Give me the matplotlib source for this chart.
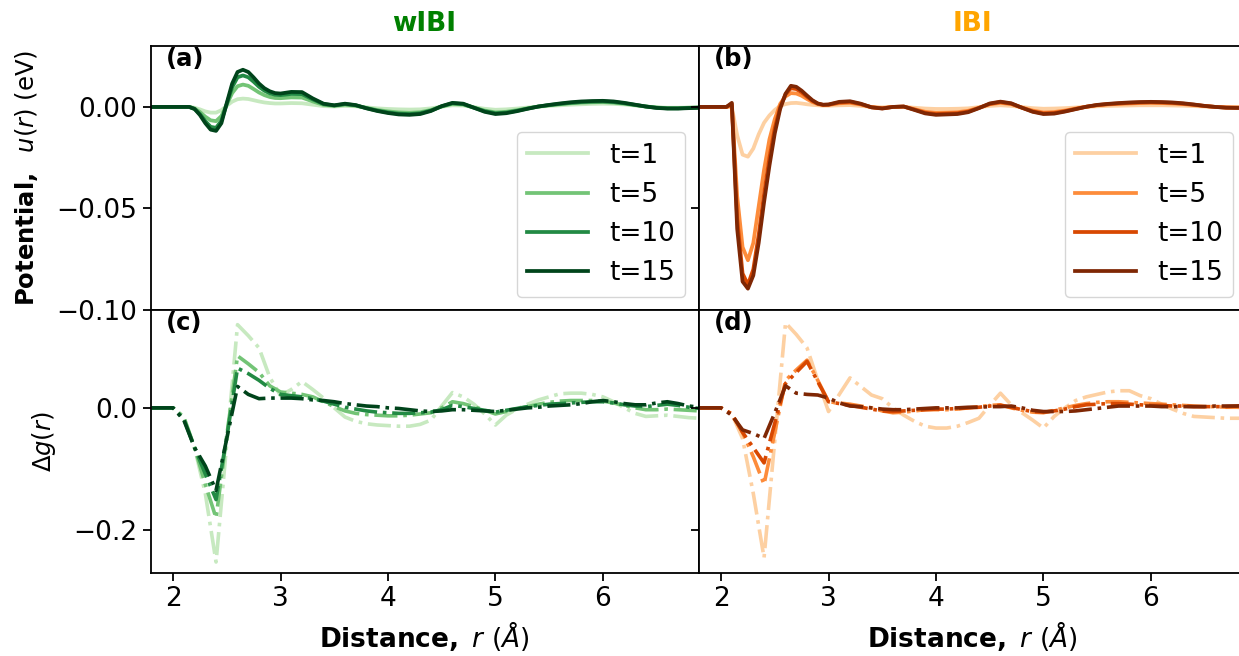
import numpy as np
import matplotlib
matplotlib.use("Agg")
import matplotlib.pyplot as plt

plt.rcParams['font.family'] = ['DejaVu Sans']
plt.rcParams['font.size'] = 19
plt.rcParams['axes.linewidth'] = 1.3

# iteration steps shown
steps = [1, 5, 10, 15]
labels = ["t={}".format(t) for t in steps]

# radial grid for the potentials (finer near the first shell)
r_pot = np.round(np.concatenate([[1.8, 1.9],
                                 np.arange(2.0, 3.001, 0.05),
                                 np.arange(3.1, 6.901, 0.1)]), 2)

# wIBI potentials u(r) in eV
u_wibi_1 = [0, 0, 0, 0, 0,
            0.0, -0.0004, -0.0012, -0.0022, -0.0028, -0.0028, -0.0016, 0.0006, 0.0026, 0.0038,
            0.0041, 0.0039, 0.0033, 0.0027, 0.0022, 0.0019, 0.0017, 0.0017,
            0.0019, 0.0018, 0.0011, 0.0004, 0.0002, 0.0005, 0.0003, -0.0002, -0.0007,
            -0.001, -0.0012, -0.0013, -0.0012, -0.0007, 0.0001, 0.0008, 0.0007, -0.0001, -0.0009,
            -0.0014, -0.0012, -0.0008, -0.0003, 0.0001, 0.0005, 0.0008, 0.0011, 0.0013, 0.0015,
            0.0016, 0.0015, 0.0012, 0.0007, 0.0002, -0.0002, -0.0004, -0.0004, -0.0003, -0.0002]
u_wibi_5 = [0, 0, 0, 0, 0,
            0.0, -0.0008, -0.0025, -0.0048, -0.0066, -0.007, -0.0045, 0.0012, 0.0068, 0.0102,
            0.011, 0.0104, 0.0088, 0.0071, 0.0058, 0.0049, 0.0044, 0.0043,
            0.0047, 0.0046, 0.0027, 0.001, 0.0005, 0.0011, 0.0006, -0.0005, -0.0015,
            -0.0022, -0.0027, -0.0029, -0.0026, -0.0015, 0.0002, 0.0015, 0.0012, -0.0003, -0.0018,
            -0.0027, -0.0024, -0.0016, -0.0007, 0.0002, 0.0008, 0.0013, 0.0018, 0.0021, 0.0023,
            0.0024, 0.0021, 0.0016, 0.0009, 0.0002, -0.0003, -0.0006, -0.0006, -0.0004, -0.0003]
u_wibi_10 = [0, 0, 0, 0, 0,
             0.0, -0.001, -0.0035, -0.007, -0.0098, -0.0103, -0.0068, 0.0015, 0.0097, 0.0146,
             0.0155, 0.0146, 0.0124, 0.0099, 0.008, 0.0067, 0.006, 0.0058,
             0.0064, 0.0063, 0.0037, 0.0014, 0.0007, 0.0014, 0.0008, -0.0006, -0.0018,
             -0.0027, -0.0033, -0.0035, -0.0031, -0.0018, 0.0003, 0.0018, 0.0014, -0.0004, -0.0021,
             -0.0031, -0.0028, -0.0019, -0.0008, 0.0002, 0.0009, 0.0015, 0.002, 0.0024, 0.0026,
             0.0027, 0.0024, 0.0018, 0.001, 0.0002, -0.0004, -0.0007, -0.0007, -0.0005, -0.0003]
u_wibi_15 = [0, 0, 0, 0, 0,
             0.0, -0.001, -0.004, -0.008, -0.0112, -0.0118, -0.008, 0.002, 0.0115, 0.0172,
             0.0183, 0.0172, 0.0145, 0.0115, 0.0092, 0.0077, 0.0068, 0.0066,
             0.0074, 0.0073, 0.0042, 0.0016, 0.0008, 0.0016, 0.0009, -0.0007, -0.002,
             -0.003, -0.0037, -0.0039, -0.0035, -0.002, 0.0004, 0.002, 0.0016, -0.0004, -0.0024,
             -0.0035, -0.0031, -0.0021, -0.0009, 0.0002, 0.001, 0.0017, 0.0023, 0.0027, 0.0029,
             0.003, 0.0027, 0.002, 0.0011, 0.0002, -0.0005, -0.0008, -0.0008, -0.0006, -0.0004]

# IBI potentials u(r) in eV
u_ibi_1 = [0, 0, 0, 0, 0,
           -0.014, -0.0235, -0.0245, -0.0205, -0.0135, -0.0078, -0.0042, -0.0015, 0.0005, 0.0014,
           0.0019, 0.002, 0.0017, 0.0013, 0.001, 0.0008, 0.0006, 0.0006,
           0.0008, 0.0009, 0.0005, 0.0, -0.0002, 0.0, 0.0, -0.0004, -0.0008,
           -0.001, -0.001, -0.0009, -0.0007, -0.0001, 0.0005, 0.0008, 0.0005, -0.0001, -0.0006,
           -0.0009, -0.0008, -0.0006, -0.0003, 0.0, 0.0003, 0.0005, 0.0006, 0.0007, 0.0008,
           0.0008, 0.0008, 0.0007, 0.0006, 0.0004, 0.0002, 0.0, -0.0001, -0.0001, -0.0001]
u_ibi_5 = [0, 0, 0, 0, 0.0005,
           -0.044, -0.069, -0.0755, -0.067, -0.049, -0.031, -0.016, -0.006, 0.0015, 0.0052,
           0.0068, 0.0066, 0.0055, 0.0039, 0.0024, 0.0014, 0.0009, 0.001,
           0.0018, 0.002, 0.0012, -0.0001, -0.0006, 0.0, 0.0001, -0.0011, -0.0024,
           -0.0029, -0.0028, -0.0026, -0.0019, -0.0004, 0.0013, 0.002, 0.0014, -0.0003, -0.0018,
           -0.0027, -0.0025, -0.0018, -0.0008, 0.0001, 0.0008, 0.0012, 0.0015, 0.0017, 0.0019,
           0.002, 0.0019, 0.0017, 0.0014, 0.0009, 0.0004, 0.0, -0.0003, -0.0003, -0.0003]
u_ibi_10 = [0, 0, 0, 0, 0.0015,
            -0.055, -0.082, -0.0875, -0.080, -0.063, -0.043, -0.025, -0.0105, 0.0, 0.0062,
            0.0092, 0.0088, 0.0072, 0.005, 0.003, 0.0016, 0.001, 0.0011,
            0.0022, 0.0025, 0.0014, -0.0002, -0.0007, 0.0, 0.0002, -0.0013, -0.0029,
            -0.0035, -0.0033, -0.0031, -0.0023, -0.0005, 0.0015, 0.0024, 0.0016, -0.0004, -0.0022,
            -0.0032, -0.003, -0.0021, -0.001, 0.0001, 0.0009, 0.0014, 0.0017, 0.002, 0.0022,
            0.0023, 0.0022, 0.002, 0.0016, 0.0011, 0.0005, 0.0, -0.0003, -0.0004, -0.0004]
u_ibi_15 = [0, 0, 0, 0, 0.002,
            -0.060, -0.086, -0.0895, -0.083, -0.067, -0.047, -0.029, -0.013, -0.001, 0.0065,
            0.0104, 0.0099, 0.008, 0.0056, 0.0033, 0.0017, 0.0011, 0.0012,
            0.0025, 0.0028, 0.0016, -0.0002, -0.0008, 0.0, 0.0002, -0.0015, -0.0032,
            -0.0039, -0.0037, -0.0035, -0.0026, -0.0006, 0.0017, 0.0026, 0.0018, -0.0004, -0.0024,
            -0.0035, -0.0033, -0.0023, -0.0011, 0.0001, 0.001, 0.0015, 0.0019, 0.0022, 0.0024,
            0.0025, 0.0024, 0.0022, 0.0018, 0.0012, 0.0005, 0.0, -0.0004, -0.0005, -0.0005]

# RDF difference grid
r_dg = np.round(np.arange(1.8, 6.901, 0.1), 1)

# wIBI delta g(r)
dg_wibi_1 = [0, 0, 0, -0.015, -0.065, -0.14, -0.252, -0.058, 0.136, 0.118, 0.098, 0.05,
             0.02, 0.03, 0.043, 0.03, 0.016, 0.0, -0.015, -0.022, -0.026, -0.028,
             -0.029, -0.03, -0.03, -0.027, -0.02, 0.003, 0.025, 0.018, 0.006, -0.01,
             -0.028, -0.012, -0.002, 0.006, 0.013, 0.018, 0.023, 0.024, 0.024, 0.022,
             0.018, 0.01, 0.0, -0.009, -0.014, -0.013, -0.012, -0.014, -0.016, -0.017]
dg_wibi_5 = [0, 0, 0, -0.015, -0.065, -0.125, -0.18, -0.045, 0.085, 0.072, 0.058, 0.036,
             0.026, 0.024, 0.022, 0.018, 0.01, 0.002, -0.005, -0.009, -0.011, -0.012,
             -0.013, -0.013, -0.012, -0.01, -0.008, 0.0, 0.01, 0.007, 0.002, -0.004,
             -0.01, -0.006, -0.002, 0.002, 0.006, 0.009, 0.011, 0.012, 0.012, 0.012,
             0.011, 0.008, 0.004, 0.0, -0.003, -0.003, -0.002, -0.003, -0.004, -0.005]
dg_wibi_10 = [0, 0, 0, -0.018, -0.065, -0.108, -0.15, -0.048, 0.065, 0.056, 0.045, 0.032,
              0.022, 0.02, 0.018, 0.015, 0.011, 0.006, 0.001, -0.002, -0.005, -0.007,
              -0.008, -0.009, -0.009, -0.008, -0.007, -0.003, 0.004, 0.002, -0.001, -0.004,
              -0.007, -0.004, -0.001, 0.002, 0.004, 0.006, 0.007, 0.008, 0.009, 0.01,
              0.01, 0.008, 0.005, 0.003, 0.002, 0.004, 0.006, 0.004, 0.001, -0.001]
dg_wibi_15 = [0, 0, 0, -0.02, -0.065, -0.095, -0.135, -0.05, 0.035, 0.022, 0.015, 0.016,
              0.016, 0.016, 0.015, 0.013, 0.012, 0.01, 0.007, 0.005, 0.003, 0.002,
              0.0, -0.001, -0.003, -0.005, -0.006, -0.005, -0.003, -0.003, -0.004, -0.005,
              -0.006, -0.004, -0.002, 0.0, 0.001, 0.003, 0.004, 0.005, 0.007, 0.01,
              0.012, 0.01, 0.007, 0.005, 0.005, 0.008, 0.01, 0.007, 0.003, 0.001]

# IBI delta g(r)
dg_ibi_1 = [0, 0, 0, -0.01, -0.05, -0.14, -0.245, -0.053, 0.139, 0.12, 0.098, 0.045,
            -0.006, 0.022, 0.049, 0.035, 0.021, 0.015, 0.0, -0.012, -0.022, -0.03,
            -0.033, -0.033, -0.03, -0.024, -0.017, 0.004, 0.024, 0.005, -0.008, -0.02,
            -0.033, -0.014, 0.0, 0.012, 0.018, 0.022, 0.026, 0.028, 0.028, 0.02,
            0.015, 0.006, -0.002, -0.009, -0.014, -0.015, -0.016, -0.017, -0.017, -0.017]
dg_ibi_5 = [0, 0, 0, -0.01, -0.04, -0.08, -0.125, -0.04, 0.045, 0.062, 0.078, 0.045,
            0.01, 0.008, 0.006, 0.003, 0.0, -0.005, -0.008, -0.007, -0.005, -0.003,
            -0.003, -0.003, -0.002, 0.0, 0.002, 0.004, 0.005, 0.0, -0.004, -0.007,
            -0.008, -0.004, 0.0, 0.004, 0.007, 0.009, 0.01, 0.01, 0.009, 0.008,
            0.007, 0.006, 0.005, 0.004, 0.003, 0.002, 0.002, 0.001, 0.001, 0.0]
dg_ibi_10 = [0, 0, 0, -0.01, -0.04, -0.065, -0.09, -0.025, 0.04, 0.058, 0.076, 0.043,
             0.01, 0.007, 0.004, 0.001, -0.002, -0.005, -0.006, -0.005, -0.004, -0.003,
             -0.002, -0.002, -0.001, 0.0, 0.001, 0.003, 0.004, 0.001, -0.003, -0.006,
             -0.007, -0.005, -0.002, 0.002, 0.005, 0.006, 0.007, 0.007, 0.006, 0.005,
             0.004, 0.004, 0.003, 0.003, 0.002, 0.002, 0.002, 0.002, 0.003, 0.003]
dg_ibi_15 = [0, 0, 0, -0.012, -0.036, -0.042, -0.05, -0.008, 0.036, 0.024, 0.022, 0.021,
             0.016, 0.008, 0.003, 0.002, 0.0, -0.002, -0.003, -0.003, -0.002, -0.001,
             0.0, 0.0, 0.0, 0.001, 0.001, 0.002, 0.002, 0.003, 0.0, -0.004,
             -0.006, -0.006, -0.006, -0.005, -0.003, -0.001, 0.001, 0.003, 0.003, 0.003,
             0.003, 0.002, 0.002, 0.002, 0.002, 0.002, 0.003, 0.003, 0.003, 0.004]

u_wibi = [u_wibi_1, u_wibi_5, u_wibi_10, u_wibi_15]
u_ibi = [u_ibi_1, u_ibi_5, u_ibi_10, u_ibi_15]
dg_wibi = [dg_wibi_1, dg_wibi_5, dg_wibi_10, dg_wibi_15]
dg_ibi = [dg_ibi_1, dg_ibi_5, dg_ibi_10, dg_ibi_15]

greens = plt.cm.Greens(np.linspace(0.25, 1.0, 4))
oranges = plt.cm.Oranges(np.linspace(0.25, 1.0, 4))

W, H = 1239, 656
fig = plt.figure(figsize=(W / 100, H / 100), dpi=100)
aw = 548 / W
x_l, x_r = 150.5 / W, 698.5 / W
y_top, y_bot = 1 - 310 / H, 1 - 573 / H
h_top, h_bot = 264 / H, 263 / H

ax_a = fig.add_axes([x_l, y_top, aw, h_top])
ax_b = fig.add_axes([x_r, y_top, aw, h_top], sharex=ax_a, sharey=ax_a)
ax_c = fig.add_axes([x_l, y_bot, aw, h_bot], sharex=ax_a)
ax_d = fig.add_axes([x_r, y_bot, aw, h_bot], sharex=ax_a, sharey=ax_c)

for i in range(4):
    ax_a.plot(r_pot, u_wibi[i], color=greens[i], lw=2.7, label=labels[i])
    ax_b.plot(r_pot, u_ibi[i], color=oranges[i], lw=2.7, label=labels[i])
    ax_c.plot(r_dg, dg_wibi[i], '-.', color=greens[i], lw=2.6)
    ax_d.plot(r_dg, dg_ibi[i], '-.', color=oranges[i], lw=2.6)

ax_a.set_xlim(1.79, 6.89)
ax_a.set_ylim(-0.10, 0.030)
ax_a.set_yticks([0.0, -0.05, -0.10])
ax_c.set_ylim(-0.27, 0.16)
ax_c.set_yticks([0.0, -0.2])
ax_a.set_xticks([2, 3, 4, 5, 6])

for ax in (ax_a, ax_b, ax_c, ax_d):
    ax.tick_params(direction='out', length=6, width=1.3, labelsize=19)
for ax in (ax_a, ax_b):
    ax.tick_params(axis='x', bottom=False, labelbottom=False)
for ax in (ax_b, ax_d):
    ax.tick_params(axis='y', labelleft=False)

ax_a.set_title('wIBI', color='green', fontweight='bold', fontsize=19, pad=11)
ax_b.set_title('IBI', color='orange', fontweight='bold', fontsize=19, pad=11)

ax_a.set_ylabel(r'$\bf{Potential,}$  $u(r)$ (eV)', fontsize=17.5, labelpad=12)
ax_c.set_ylabel(r'$\Delta g(r)$', fontsize=17.5, labelpad=11)
for ax in (ax_c, ax_d):
    ax.set_xlabel(r'$\bf{Distance,}$ $r$ ($\AA$)', fontsize=19, labelpad=5)

for ax, tag in zip((ax_a, ax_b, ax_c, ax_d), ('(a)', '(b)', '(c)', '(d)')):
    ax.text(0.028, 0.995, tag, transform=ax.transAxes, fontsize=17.5,
            fontweight='bold', va='top', ha='left')

for ax in (ax_a, ax_b):
    ax.legend(loc='lower right', fontsize=19, handlelength=2.3,
              labelspacing=0.5, borderaxespad=0.5)

fig.savefig('out.png', dpi=100)
